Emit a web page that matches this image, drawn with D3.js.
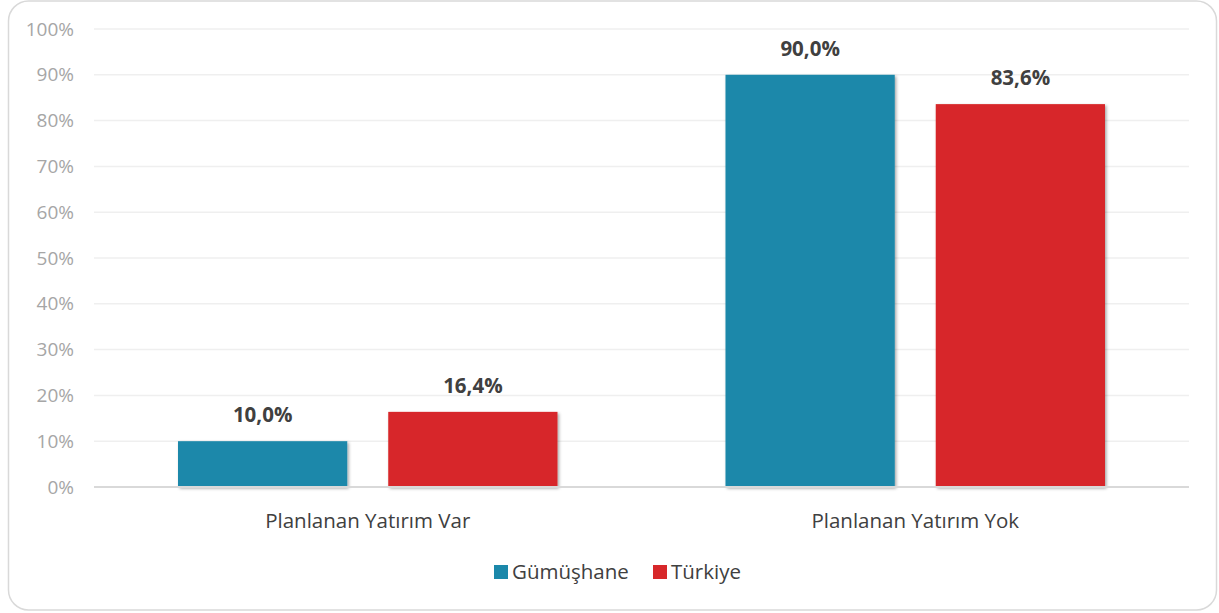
<!DOCTYPE html>
<html lang="tr">
<head>
<meta charset="utf-8">
<title>Planlanan Yatırım</title>
<script src="https://cdnjs.cloudflare.com/ajax/libs/d3/7.8.5/d3.min.js"></script>
<style>
  body { margin: 0; background: #fff; }
  * { font-family: "Open Sans", Lato, sans-serif; }
  .grid line { stroke: #efefef; stroke-width: 1.5px; }
  .tick-label { fill: #a6a6a6; font-size: 19px; }
  .cat-label { fill: #404040; font-size: 20.5px; }
  .val-label { fill: #404040; font-size: 20.5px; font-weight: bold; }
  .legend-text { fill: #404040; font-size: 20.5px; }
</style>
</head>
<body>
<div id="chart"></div>
<script>
var categories = ['Planlanan Yatırım Var', 'Planlanan Yatırım Yok'];
var seriesNames = ['Gümüşhane', 'Türkiye'];
var gumushane = [10.0, 90.0];
var turkiye = [16.4, 83.6];
var colors = ['#1b88aa', '#d7282a'];
var yTicks = [0, 10, 20, 30, 40, 50, 60, 70, 80, 90, 100];

var width = 1219, height = 613;
var margin = { top: 29, right: 30, bottom: 126, left: 94 };

var svg = d3.select('#chart').append('svg')
    .attr('width', width)
    .attr('height', height);

var defs = svg.append('defs');
var f = defs.append('filter').attr('id', 'shadow')
    .attr('x', '-10%').attr('y', '-10%').attr('width', '130%').attr('height', '130%');
f.append('feDropShadow')
    .attr('dx', 1.5).attr('dy', 1.5).attr('stdDeviation', 1.8)
    .attr('flood-color', '#000').attr('flood-opacity', 0.35);

// outer frame
svg.append('rect')
    .attr('x', 8.5).attr('y', 1)
    .attr('width', 1208).attr('height', 609)
    .attr('rx', 20).attr('ry', 20)
    .attr('fill', '#fff')
    .attr('stroke', '#d9d9d9')
    .attr('stroke-width', 1.5);

var plotW = 1189 - margin.left;
var plotH = 487 - margin.top;

var g = svg.append('g')
    .attr('transform', 'translate(' + margin.left + ',' + margin.top + ')');

var x0 = d3.scaleBand()
    .domain(categories)
    .range([0, plotW]);

var x1 = d3.scaleBand()
    .domain(seriesNames)
    .range([84, x0.bandwidth() - 84])
    .paddingInner(0.195);

var y = d3.scaleLinear()
    .domain([0, 100])
    .range([plotH, 0]);

// grid
g.append('g').attr('class', 'grid')
    .selectAll('line')
    .data(yTicks.filter(function(d) { return d > 0; }))
    .enter().append('line')
    .attr('x1', 0).attr('x2', plotW)
    .attr('y1', function(d) { return y(d); })
    .attr('y2', function(d) { return y(d); });

// y labels
g.selectAll('.tick-label')
    .data(yTicks)
    .enter().append('text')
    .attr('class', 'tick-label')
    .attr('x', -20)
    .attr('y', function(d) { return y(d); })
    .attr('dy', '0.35em')
    .attr('text-anchor', 'end')
    .text(function(d) { return d + '%'; });

var rows = categories.map(function(c, i) {
    return { cat: c, values: [gumushane[i], turkiye[i]] };
});

var groups = g.selectAll('.group')
    .data(rows)
    .enter().append('g')
    .attr('transform', function(d) { return 'translate(' + x0(d.cat) + ',0)'; });

groups.selectAll('rect')
    .data(function(d) { return d.values.map(function(v, j) { return { name: seriesNames[j], v: v, j: j }; }); })
    .enter().append('rect')
    .attr('x', function(d) { return x1(d.name); })
    .attr('y', function(d) { return y(d.v); })
    .attr('width', x1.bandwidth())
    .attr('height', function(d) { return plotH - y(d.v); })
    .attr('fill', function(d) { return colors[d.j]; })
    .attr('filter', 'url(#shadow)');

groups.selectAll('.val-label')
    .data(function(d) { return d.values.map(function(v, j) { return { name: seriesNames[j], v: v }; }); })
    .enter().append('text')
    .attr('class', 'val-label')
    .attr('x', function(d) { return x1(d.name) + x1.bandwidth() / 2; })
    .attr('y', function(d) { return y(d.v) - 19; })
    .attr('text-anchor', 'middle')
    .text(function(d) { return d.v.toFixed(1).replace('.', ',') + '%'; });

// baseline
g.append('line')
    .attr('x1', 0).attr('x2', plotW)
    .attr('y1', plotH).attr('y2', plotH)
    .attr('stroke', '#d9d9d9').attr('stroke-width', 2);

// category labels
g.selectAll('.cat-label')
    .data(categories)
    .enter().append('text')
    .attr('class', 'cat-label')
    .attr('x', function(d) { return x0(d) + x0.bandwidth() / 2; })
    .attr('y', plotH + 41)
    .attr('text-anchor', 'middle')
    .text(function(d) { return d; });

// legend
var legendX = [494, 653];
var legend = svg.selectAll('.legend')
    .data(seriesNames)
    .enter().append('g')
    .attr('transform', function(d, i) { return 'translate(' + legendX[i] + ',565)'; });

legend.append('rect')
    .attr('width', 14).attr('height', 14)
    .attr('fill', function(d, i) { return colors[i]; });

legend.append('text')
    .attr('class', 'legend-text')
    .attr('x', 18).attr('y', 7)
    .attr('dy', '0.35em')
    .text(function(d) { return d; });
</script>
</body>
</html>
